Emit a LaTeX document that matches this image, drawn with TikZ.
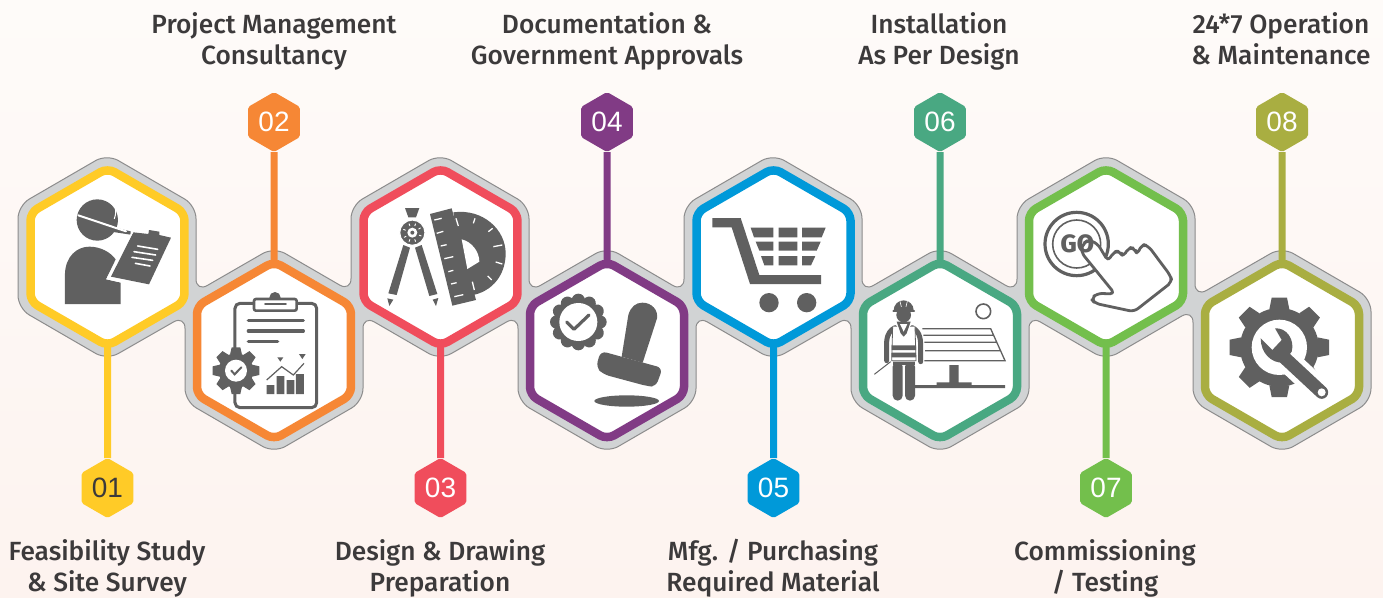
\documentclass[tikz,border=0pt]{standalone}
\usepackage{fontspec}
\setmainfont{Fira Sans Medium}
\newfontfamily\numfont{Liberation Sans}
\usetikzlibrary{shapes.geometric}
\definecolor{bgtop}{HTML}{FEFBF9}
\definecolor{bgbot}{HTML}{FDF3EF}
\definecolor{bandfill}{HTML}{D1D3D4}
\definecolor{bandline}{HTML}{8C8C8C}
\definecolor{ink}{HTML}{606060}
\definecolor{lab}{HTML}{3C3A3B}
\definecolor{cA}{HTML}{FFCB27}
\definecolor{cB}{HTML}{F68735}
\definecolor{cC}{HTML}{F04D5C}
\definecolor{cD}{HTML}{813B85}
\definecolor{cE}{HTML}{0099D9}
\definecolor{cF}{HTML}{49A882}
\definecolor{cG}{HTML}{73BF4C}
\definecolor{cH}{HTML}{A9AE41}
\tikzset{
 hexring/.style={regular polygon,regular polygon sides=6,shape border rotate=30,minimum size=177.8pt,inner sep=0pt,outer sep=0pt,draw=#1,fill=white,line width=8.5pt,rounded corners=8pt},
 badge/.style={regular polygon,regular polygon sides=6,shape border rotate=30,minimum size=60pt,inner sep=0pt,outer sep=0pt,fill=#1,rounded corners=2pt,text=white,font=\numfont\fontsize{28}{28}\selectfont},
 conn/.style={draw=#1,line width=7pt},
 lbl/.style={align=center,anchor=base,text=lab,inner sep=0pt,font=\fontsize{26.3}{31}\selectfont},
 zoomed/.style={x=0.33333pt,y=-0.33333pt},
 ic/.style={fill=ink,draw=none},
 wl/.style={draw=white,line cap=round},
 il/.style={draw=ink,line cap=round}
}
\newcommand{\cogwheel}[7]{% cx,cy,n teeth,outer,root,halfwidth top,halfwidth base
 \begin{scope}[shift={(#1,#2)}]
 \foreach \k in {1,...,#3}{
  \fill[ink,rotate=\k*360/#3] (-#6,-#4) -- (#6,-#4) -- (#7,-#5+4) -- (-#7,-#5+4) -- cycle;}
 \fill[ink] (0,0) circle (#5);
 \end{scope}}
\begin{document}
\begin{tikzpicture}[x=1pt,y=-1pt]
\useasboundingbox (0,0) rectangle (1383,597);
\shade[top color=bgtop,bottom color=bgbot] (0,0) rectangle (1383,597);
% grey band
\draw[fill=bandfill,draw=bandline,line width=1pt,rounded corners=13pt]
 (107,154)--(196,205.6)--(196,292)--(274,247)--(351,291.6)--(351,205.6)--(440,154)--(529,205.6)--(529,292)--(607,247)--(684,292)--(684,205.6)--(773,154)--(862,205.6)--(862,292)--(940,247)--(1017,292)--(1017,205.6)--(1106,154)--(1195,205.6)--(1195,297)--(1282,247)--(1371,298.6)--(1371,401.4)--(1282,453)--(1193,401.4)--(1193,309.5)--(1106,360)--(1029,315.4)--(1029,401.4)--(940,453)--(851,401.4)--(851,315.4)--(773,360)--(696,315.4)--(696,401.4)--(607,453)--(518,401.4)--(518,315.4)--(440,360)--(363,315.4)--(363,401.4)--(274,453)--(185,401.4)--(185,315.4)--(107,360)--(18,308.4)--(18,205.6)--cycle;
% rings
\node[hexring=cA] (h1) at (107.5,257) {};
\node[hexring=cB] (h2) at (274,350.5) {};
\node[hexring=cC] (h3) at (440.5,257) {};
\node[hexring=cD] (h4) at (607,350.5) {};
\node[hexring=cE] (h5) at (773.5,257) {};
\node[hexring=cF] (h6) at (940,350.5) {};
\node[hexring=cG] (h7) at (1106,257) {};
\node[hexring=cH] (h8) at (1282,350.5) {};
% badges
\node[badge=cA,text=lab] (b1) at (107.5,488) {01};
\node[badge=cB] (b2) at (274,122) {02};
\node[badge=cC] (b3) at (440.5,488) {03};
\node[badge=cD] (b4) at (607,122) {04};
\node[badge=cE] (b5) at (773.5,488) {05};
\node[badge=cF] (b6) at (940,122) {06};
\node[badge=cG] (b7) at (1106,488) {07};
\node[badge=cH] (b8) at (1282,122) {08};
% connectors
\draw[conn=cA] (b1) -- (h1);
\draw[conn=cB] (b2) -- (h2);
\draw[conn=cC] (b3) -- (h3);
\draw[conn=cD] (b4) -- (h4);
\draw[conn=cE] (b5) -- (h5);
\draw[conn=cF] (b6) -- (h6);
\draw[conn=cG] (b7) -- (h7);
\draw[conn=cH] (b8) -- (h8);
% labels
\node[lbl] (t1) at (107,591.5) {Feasibility Study\\\& Site Survey};
\node[lbl] (t2) at (274,64) {Project Management\\Consultancy};
\node[lbl] (t3) at (440,591.5) {Design \& Drawing\\Preparation};
\node[lbl] (t4) at (607,64) {Documentation \&\\Government Approvals};
\node[lbl] (t5) at (773,591.5) {Mfg. / Purchasing\\Required Material};
\node[lbl] (t6) at (939,64) {Installation\\As Per Design};
\node[lbl] (t7) at (1105,591.5) {Commissioning\\/ Testing};
\node[lbl] (t8) at (1281,64) {24*7 Operation\\\& Maintenance};
% ICON 1 : surveyor
\begin{scope}[shift={(0,140)},zoomed]
 \fill[ink] (292,240) circle (62);
 \fill[ink] (340,262) -- (392,274) -- (392,284) -- (340,276) -- cycle;
 \draw[wl,line width=2pt] (235,226) -- (378,274);
 \draw[wl,line width=1pt] (341,193) .. controls (350,208) and (348,222) .. (343,236);
 \fill[ink] (195,492) -- (195,400) .. controls (197,350) and (230,320) .. (268,320) .. controls (300,320) and (330,335) .. (347,358) -- (318,418) -- (362,428) -- (362,492) -- cycle;
 \fill[ink] (400,277) -- (445,282) -- (447,270) -- (478,275) -- (478,285) -- (513,293) -- (447,433) -- (333,410) -- cycle;
 \draw[wl,line width=1.4pt,line cap=butt] (397,277) -- (322,416) -- (362,425);
 \foreach \a/\b/\c/\d in {413/318/473/328,402/335/467/345,396/352/458/361,406/370/450/378}
  \draw[wl,line width=1.6pt] (\a,\b) -- (\c,\d);
\end{scope}
% ICON 2 : plan
\begin{scope}[shift={(0,140)},zoomed]
 \draw[ink,line width=3pt,rounded corners=5pt] (705,628) -- (705,490) -- (950,490) -- (950,803) -- (705,803) -- (705,752);
 \fill[ink] (825,473) circle (17);
 \draw[ink,fill=white,line width=2.6pt,rounded corners=2pt] (762,477) rectangle (890,512);
 \draw[il,line width=1.7pt] (795,493) -- (858,493);
 \draw[il,line width=3.3pt] (745,542) -- (910,542) (745,573) -- (910,573) (745,605) -- (833,605);
 \cogwheel{708}{692}{8}{70}{52}{13}{18}
 \fill[white] (708,692) circle (33);
 \draw[il,line width=2pt] (694,692) -- (704,703) -- (724,682);
 \fill[ink] (800,735) rectangle (823,762) (830,708) rectangle (853,762) (860,720) rectangle (883,762) (888,702) rectangle (912,762);
 \draw[ink,line width=1.2pt] (800,720) -- (845,680) -- (880,705) -- (912,670);
 \fill[ink] (832,652) -- (850,652) -- (841,665) -- cycle (897,642) -- (917,642) -- (907,657) -- cycle;
\end{scope}
% ICON 3 : compass and protractor
\begin{scope}[shift={(350,140)},zoomed]
 \fill[ink] (165,204) -- (208,204) -- (198,232) -- (175,232) -- cycle;
 \fill[ink] (160,315) -- (180,323) -- (140,465) -- (115,460) -- cycle;
 \fill[ink] (195,323) -- (215,315) -- (262,462) -- (238,468) -- cycle;
 \fill[ink] (112,475) -- (130,479) -- (118,498) -- cycle (248,479) -- (265,474) -- (258,498) -- cycle;
 \draw[white,line width=1.2pt,fill=ink] (187,278) circle (38);
 \fill[white] (187,278) circle (15);
 \fill[ink] (187,278) circle (6);
 \foreach \r in {20,70,110,150,200,250,290,330}
  \draw[wl,line width=.9pt,shift={(187,278)}] (\r:22) -- (\r:28);
 \fill[ink] (310,217) .. controls (400,205) and (467,270) .. (467,340) .. controls (467,410) and (420,465) .. (345,468) -- cycle;
 \fill[ink] (240,222) -- (305,205) -- (378,480) -- (307,497) -- cycle;
 \fill[white] (335,298) .. controls (365,305) and (388,335) .. (388,365) -- (352,387) -- cycle;
 \foreach \a/\b/\c/\d in {253/240/275/235,260/280/280/274,272/318/290/314,283/356/310/350,295/395/310/391,303/432/320/428,313/470/340/464,318/235/325/258,375/235/370/250,428/265/415/275,457/315/430/320,457/372/437/366,425/420/413/408,367/425/373/450}
  \draw[wl,line width=1.3pt,line cap=butt] (\a,\b) -- (\c,\d);
\end{scope}
% ICON 4 : stamp
\begin{scope}[shift={(350,140)},zoomed]
 \begin{scope}[shift={(685,546)}]
  \foreach \r in {0,30,...,330}
   \fill[ink,rotate=\r] (0,-65) circle (20);
  \fill[ink] (0,0) circle (72);
  \fill[white] (0,0) circle (57);
  \draw[il,line width=3.2pt,line join=round] (-35,0) -- (-13,22) -- (32,-21);
 \end{scope}
 \fill[ink] (815,650) -- (835,525) .. controls (842,500) and (858,488) .. (877,488) .. controls (905,488) and (925,510) .. (921,535) -- (878,668) -- cycle;
 \fill[ink,rounded corners=6pt] (752,633) -- (938,684) -- (917,741) -- (890,738) -- (760,703) -- (738,682) -- cycle;
 \fill[ink] (830,783) ellipse (97 and 17);
\end{scope}
% ICON 5 : cart
\begin{scope}[shift={(680,140)},zoomed]
 \fill[ink] (97,234) -- (182,234) -- (238,405) -- (423,405) -- (423,432) -- (210,432) -- (155,262) -- (97,262) -- cycle;
 \fill[ink] (212,263) -- (280,263) -- (280,292) -- (222,292) -- cycle
            (296,263) rectangle (352,292)
            (366,263) -- (437,263) -- (425,292) -- (366,292) -- cycle
            (227,305) -- (280,305) -- (280,332) -- (238,332) -- cycle
            (296,305) rectangle (352,332)
            (366,305) -- (422,305) -- (410,332) -- (366,332) -- cycle
            (243,348) -- (280,348) -- (280,376) -- (253,376) -- cycle
            (296,348) rectangle (352,376)
            (366,348) -- (406,348) -- (393,376) -- (366,376) -- cycle;
 \fill[ink] (267,488) circle (29) (380,488) circle (29);
\end{scope}
% ICON 6 : installer and panel
\begin{scope}[shift={(680,140)},zoomed]
 \draw[ink,line width=1.6pt] (910,514) circle (22);
 \draw[ink,line width=1.3pt] (727,566) -- (932,566) -- (975,662) -- (733,662) (730,586) -- (942,586) (733,607) -- (951,607) (735,632) -- (963,632);
 \fill[ink] (808,675) rectangle (836,728) (770,727) rectangle (875,738) (700,735) rectangle (975,744);
 \draw[ink,line width=1pt] (583,703) -- (632,665);
 % arms
 \draw[ink,line width=5pt,line cap=round,line join=round] (620,662) -- (620,605) .. controls (622,580) and (632,570) .. (645,563);
 \draw[ink,line width=5pt,line cap=round,line join=round] (722,665) -- (722,610) .. controls (720,580) and (710,570) .. (697,563);
 % legs
 \fill[ink,rounded corners=5pt] (638,665) rectangle (668,782);
 \fill[ink,rounded corners=5pt] (675,665) rectangle (705,782);
 \fill[ink] (638,655) rectangle (705,675);
 % vest
 \fill[white] (638,560) -- (705,560) -- (708,665) -- (635,665) -- cycle;
 \draw[ink,line width=.8pt] (638,560) -- (635,662) -- (708,662) -- (705,560);
 \fill[ink] (635,616) rectangle (708,630) (635,638) rectangle (708,652);
 \fill[ink] (650,545) -- (692,545) -- (680,580) -- (671,590) -- (662,580) -- cycle;
 \fill[white] (660,552) -- (682,552) -- (671,575) -- cycle;
 % head and hat
 \fill[ink] (671,525) circle (22);
 \fill[ink] (641,511) arc (180:360:30) -- cycle;
 \draw[il,line width=2pt] (640,513) -- (702,513);
 \draw[wl,line width=.6pt] (660,484) -- (664,500) (682,484) -- (678,500);
\end{scope}
% ICON 7 : go button
\begin{scope}[shift={(1020,140)},zoomed]
 \draw[ink,line width=3.2pt] (170,312) circle (95);
 \draw[ink,line width=1.6pt] (170,312) circle (72);
 \draw[ink,fill=white,line width=2.8pt,line join=round,rounded corners=5pt]
  (182,335) -- (285,462) -- (232,460) -- (213,476) -- (225,490) -- (342,515) -- (457,425) -- (450,405) -- (385,318) -- (365,312) -- (352,345) -- (345,325) -- (325,322) -- (310,352) -- (300,333) -- (280,335) -- (265,365) -- (232,310) -- (205,300) -- (190,310) -- cycle;
 \node[text=ink,inner sep=0pt,font=\bfseries\fontsize{25}{25}\selectfont] (go) at (172,312) {GO};
\end{scope}
% ICON 8 : gear and wrench
\begin{scope}[shift={(1020,140)},zoomed]
 \cogwheel{778}{622}{8}{149}{118}{23}{30}
 \fill[white] (778,622) circle (83);
 \draw[white,line width=24pt,line cap=round] (790,650) -- (905,757);
 \draw[ink,line width=13pt,line cap=round] (790,650) -- (905,757);
 \fill[ink] (765,565) .. controls (800,562) and (825,600) .. (815,635) -- (790,668) .. controls (755,670) and (722,640) .. (722,595) -- (757,630) -- (785,600) -- cycle;
 \fill[white] (905,757) circle (12);
\end{scope}
\end{tikzpicture}
\end{document}
